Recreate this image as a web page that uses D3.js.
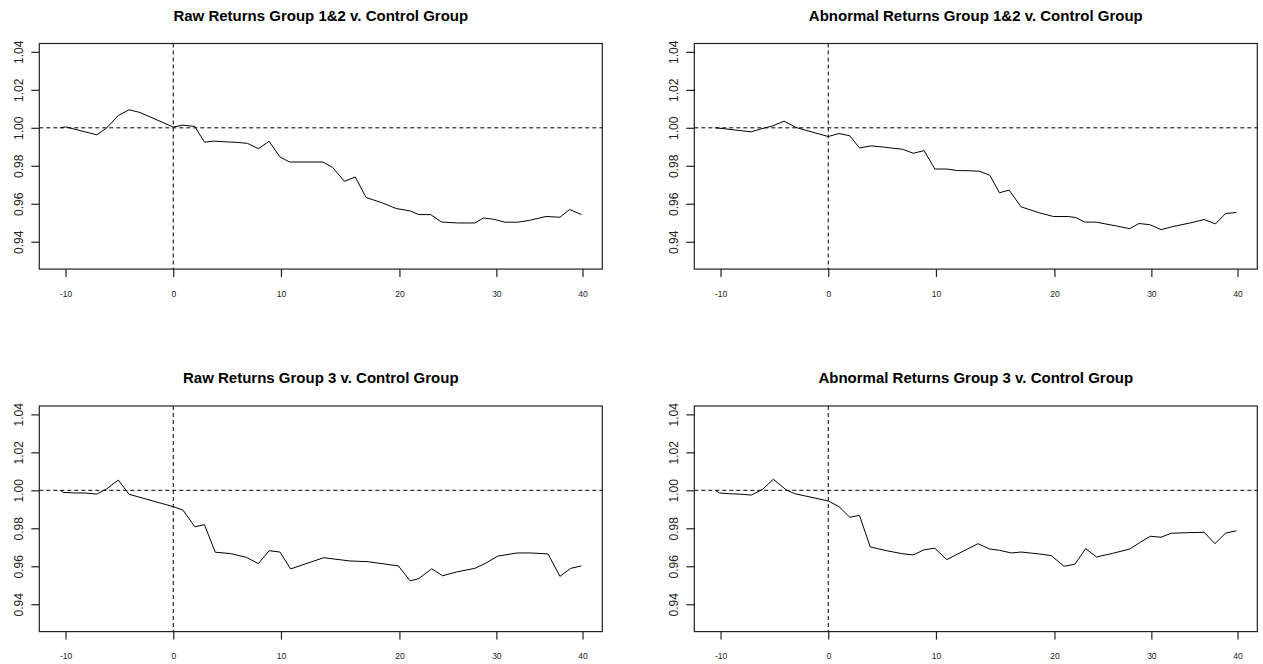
<!DOCTYPE html>
<html lang="en">
<head>
    <meta charset="UTF-8">
    <title>Returns v. Control Group</title>
    <script src="https://d3js.org/d3.v7.min.js"></script>
    <style>
        body {
            margin: 0;
            background: #fff;
            font-family: "Liberation Sans", Arial, sans-serif;
        }
        svg {
            display: block;
        }
        .title {
            font-size: 15px;
            font-weight: bold;
            fill: #000;
        }
        .ylab {
            font-size: 12px;
            fill: #222;
        }
        .xlab {
            font-size: 8.5px;
            fill: #222;
        }
    </style>
</head>
<body>
    <svg></svg>
    <script>
        // event-time positions and cumulative values
        const rawG12Days = [-10.5, -10.0, -7.1, -6.2, -5.1, -4.1, -3.1, 0, 0.9, 2.0, 2.9, 3.7, 4.9, 6.0, 6.9, 7.9, 8.9, 9.9, 10.8,
            13.9, 14.8, 15.9, 16.9, 17.9, 19.4, 20.7, 22.0, 22.8, 23.9, 24.9, 26.4, 28.0, 28.8, 29.7, 30.8, 32.0, 33.1, 34.6, 35.9, 36.8, 37.9];
        const rawG12Values = [1.0000, 1.0005, 0.9963, 0.9998, 1.0065, 1.0095, 1.0081, 1.0004, 1.0014, 1.0007, 0.9924, 0.9930, 0.9926,
            0.9923, 0.9918, 0.9890, 0.9929, 0.9847, 0.9820, 0.9820, 0.9791, 0.9718, 0.9741, 0.9633, 0.9605, 0.9575, 0.9562, 0.9543,
            0.9543, 0.9504, 0.9499, 0.9499, 0.9525, 0.9519, 0.9503, 0.9503, 0.9513, 0.9533, 0.9529, 0.9570, 0.9543];

        const abnG12Days = [-10.5, -9.6, -8.6, -7.15, -6.2, -5.15, -4.1, -3.0, 0, 1.0, 2.0, 2.9, 4.0, 5.2, 6.9, 7.9, 8.9, 9.9, 11.0,
            12.0, 13.1, 14.05, 15.0, 15.9, 16.8, 17.9, 19.5, 20.9, 22.3, 23.0, 23.8, 24.9, 26.75, 28.0, 28.85, 29.85, 30.9, 32.0,
            33.6, 34.9, 35.95, 36.9, 37.9];
        const abnG12Values = [1.0000, 0.9995, 0.9988, 0.9979, 0.9995, 1.0010, 1.0035, 1.0002, 0.9954, 0.9970, 0.9958, 0.9894,
            0.9905, 0.9898, 0.9887, 0.9866, 0.9880, 0.9783, 0.9783, 0.9775, 0.9774, 0.9771, 0.9750, 0.9658, 0.9672, 0.9584, 0.9554,
            0.9533, 0.9533, 0.9527, 0.9504, 0.9503, 0.9483, 0.9469, 0.9496, 0.9490, 0.9464, 0.9480, 0.9499, 0.9517, 0.9494, 0.9549, 0.9554];

        const rawG3Days = [-10.5, -10.2, -9.1, -8.2, -7.1, -6.2, -5.1, -4.1, 0, 0.9, 2.0, 2.9, 3.9, 5.3, 6.8, 7.9, 8.9, 9.9, 10.9,
            13.96, 16.4, 18.1, 20.9, 22.0, 22.8, 24.0, 25.0, 26.3, 28.0, 29.0, 30.1, 31.9, 33.2, 34.8, 35.9, 36.9, 37.9];
        const rawG3Values = [1.0000, 0.9989, 0.9986, 0.9986, 0.9980, 1.0007, 1.0054, 0.9979, 0.9914, 0.9896, 0.9808, 0.9819,
            0.9674, 0.9667, 0.9647, 0.9614, 0.9682, 0.9675, 0.9586, 0.9645, 0.9628, 0.9624, 0.9602, 0.9523, 0.9535, 0.9587,
            0.9550, 0.9570, 0.9589, 0.9616, 0.9653, 0.9670, 0.9670, 0.9665, 0.9547, 0.9589, 0.9602];

        const abnG3Days = [-10.5, -10.1, -9.2, -8.2, -7.15, -6.1, -5.1, -3.9, -3.1, 0, 1.0, 2.0, 2.9, 3.9, 5.4, 6.9, 7.9, 8.9, 9.9,
            11.0, 13.9, 15.0, 15.9, 17.0, 17.9, 19.6, 20.7, 21.9, 22.9, 23.9, 24.9, 26.4, 28.0, 28.9, 29.9, 30.9, 31.85, 33.4,
            34.9, 35.9, 36.9, 37.9];
        const abnG3Values = [1.0000, 0.9986, 0.9982, 0.9980, 0.9975, 1.0005, 1.0058, 1.0002, 0.9982, 0.9944, 0.9914, 0.9858,
            0.9868, 0.9702, 0.9682, 0.9666, 0.9660, 0.9687, 0.9695, 0.9635, 0.9719, 0.9691, 0.9684, 0.9670, 0.9675, 0.9665,
            0.9656, 0.9600, 0.9611, 0.9693, 0.9649, 0.9668, 0.9691, 0.9724, 0.9758, 0.9753, 0.9774, 0.9777, 0.9779, 0.9719,
            0.9775, 0.9787];

        const titles = [
            "Raw Returns Group 1&2 v. Control Group",
            "Abnormal Returns Group 1&2 v. Control Group",
            "Raw Returns Group 3 v. Control Group",
            "Abnormal Returns Group 3 v. Control Group"
        ];
        const seriesDays = [rawG12Days, abnG12Days, rawG3Days, abnG3Days];
        const seriesValues = [rawG12Values, abnG12Values, rawG3Values, abnG3Values];

        const xTickPos = [-10, 0, 10, 21, 30, 38];
        const xTickLabels = ["-10", "0", "10", "20", "30", "40"];
        const yTicks = [0.94, 0.96, 0.98, 1.00, 1.02, 1.04];
        const yLimits = [0.93, 1.04];
        const refLevel = 1.0;
        const eventDay = 0;

        const width = 1263, height = 664;
        const svg = d3.select("svg").attr("width", width).attr("height", height);

        // plot boxes (R par layout, 2 x 2)
        const colLeft = [39.3, 694.3];
        const boxW = 563;
        const rowTop = [43.5, 406];
        const boxH = 225.6;

        // R style 4% axis expansion
        function padded(lo, hi) {
            const d = (hi - lo) * 0.04;
            return [lo - d, hi + d];
        }

        titles.forEach((title, i) => {
            const col = i % 2, row = Math.floor(i / 2);
            const L = colLeft[col], T = rowTop[row];
            const days = seriesDays[i], vals = seriesValues[i];
            const data = days.map((d, k) => ({ day: d, value: vals[k] }));

            const x = d3.scaleLinear().domain(padded(d3.min(days), d3.max(days))).range([L, L + boxW]);
            const y = d3.scaleLinear().domain(padded(yLimits[0], yLimits[1])).range([T + boxH, T]);

            const g = svg.append("g");

            // reference lines
            g.append("line")
                .attr("x1", L).attr("x2", L + boxW)
                .attr("y1", y(refLevel)).attr("y2", y(refLevel))
                .attr("stroke", "#000").attr("stroke-width", 1)
                .attr("stroke-dasharray", "4,3");
            g.append("line")
                .attr("x1", x(eventDay)).attr("x2", x(eventDay))
                .attr("y1", T).attr("y2", T + boxH)
                .attr("stroke", "#000").attr("stroke-width", 1)
                .attr("stroke-dasharray", "4,3");

            // series
            g.append("path")
                .datum(data)
                .attr("fill", "none")
                .attr("stroke", "#000")
                .attr("stroke-width", 1)
                .attr("stroke-linejoin", "round")
                .attr("d", d3.line().x(d => x(d.day)).y(d => y(d.value)));

            // box
            g.append("rect")
                .attr("x", L).attr("y", T)
                .attr("width", boxW).attr("height", boxH)
                .attr("fill", "none")
                .attr("stroke", "#222").attr("stroke-width", 1.2);

            // x axis
            const xAxis = g.append("g")
                .attr("transform", `translate(0,${T + boxH})`)
                .call(d3.axisBottom(x)
                    .tickValues(xTickPos)
                    .tickFormat((d, k) => xTickLabels[k])
                    .tickSize(8)
                    .tickPadding(12));
            xAxis.select(".domain").remove();
            xAxis.selectAll("line").attr("stroke", "#222").attr("stroke-width", 1.2);
            xAxis.selectAll("text")
                .attr("class", "xlab")
                .attr("font-family", null).attr("font-size", null).attr("fill", null)
                .attr("dy", null).attr("y", 27.5);

            // y axis (labels parallel to axis)
            const yAxis = g.append("g")
                .attr("transform", `translate(${L},0)`)
                .call(d3.axisLeft(y)
                    .tickValues(yTicks)
                    .tickFormat(d3.format(".2f"))
                    .tickSize(8));
            yAxis.select(".domain").remove();
            yAxis.selectAll("line").attr("stroke", "#222").attr("stroke-width", 1.2);
            yAxis.selectAll("text")
                .attr("class", "ylab")
                .attr("font-family", null).attr("font-size", null).attr("fill", null)
                .attr("x", null).attr("dy", null)
                .attr("text-anchor", "middle")
                .attr("transform", "translate(-16,0) rotate(-90)");

            // title
            g.append("text")
                .attr("class", "title")
                .attr("x", L + boxW / 2)
                .attr("y", T - 22.8)
                .attr("text-anchor", "middle")
                .text(title);
        });
    </script>
</body>
</html>
